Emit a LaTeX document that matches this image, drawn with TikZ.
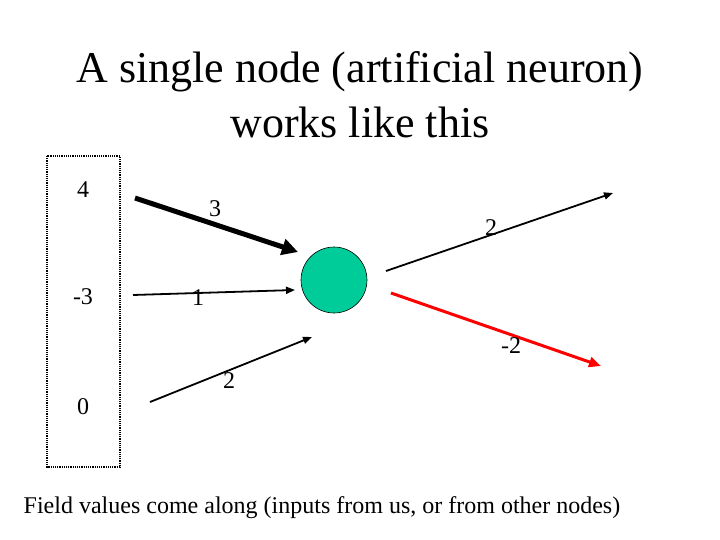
\documentclass[tikz,border=0pt]{standalone}
\usepackage{fontspec}
\setmainfont{Liberation Serif}
\usetikzlibrary{arrows.meta}
\begin{document}
\begin{tikzpicture}[x=1pt,y=-1pt,
  lbl/.style={font=\fontsize{24}{28}\selectfont},
  wire/.style={line width=1.8pt,-{Triangle[length=9pt,width=7pt]}}]
\useasboundingbox (0,0) rectangle (720,540);
\node[font=\fontsize{44}{50}\selectfont] (t1) at (360,72) {A single node (artificial neuron)};
\node[font=\fontsize{44}{50}\selectfont] (t2) at (360,122) {works like this};
\draw[densely dotted, line width=1.2pt] (47,156) rectangle (120,467);
\node[lbl] (i1) at (83,190) {4};
\node[lbl] (i2) at (83,297) {-3};
\node[lbl] (i3) at (83,407) {0};
\node[circle, draw, fill={rgb,255:red,0;green,204;blue,153}, minimum size=66pt, line width=0.6pt] (n) at (334,280) {};
\coordinate (a1) at (135,198); \coordinate (b1) at (298,252);
\coordinate (a2) at (133,295); \coordinate (b2) at (295,290);
\coordinate (a3) at (150,402); \coordinate (b3) at (312,337);
\coordinate (a4) at (386,271); \coordinate (b4) at (613,193);
\coordinate (a5) at (391,293); \coordinate (b5) at (601,366);
\draw[line width=5pt,-{Triangle[length=16pt,width=16pt]}] (a1) -- (b1);
\draw[wire] (a2) -- (b2);
\draw[wire] (a3) -- (b3);
\draw[wire] (a4) -- (b4);
\draw[wire, red, line width=3pt, -{Triangle[length=12pt,width=10pt]}] (a5) -- (b5);
\node[lbl] (w1) at (215,209) {3};
\node[lbl] (w2) at (198,298) {1};
\node[lbl] (w3) at (229,381) {2};
\node[lbl] (w4) at (491,228) {2};
\node[lbl] (w5) at (511,346) {-2};
\node[font=\fontsize{24}{28}\selectfont] (cap) at (322,508) {Field values come along (inputs from us, or from other nodes)};
\end{tikzpicture}
\end{document}
